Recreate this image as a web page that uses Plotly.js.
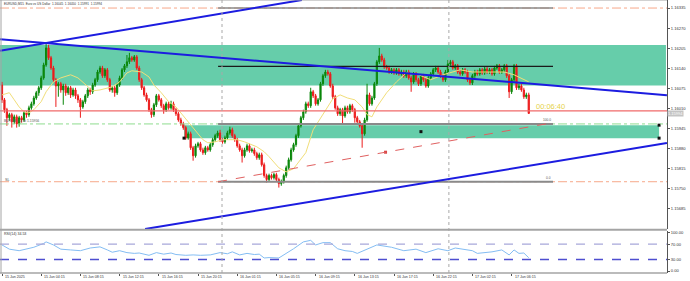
<!DOCTYPE html>
<html><head><meta charset="utf-8">
<script src="https://cdn.plot.ly/plotly-3.0.1.min.js"></script>
<style>html,body{margin:0;padding:0;background:#fff;overflow:hidden}#chart{width:690px;height:281px}</style>
</head><body><div id="chart"></div>
<script>
const openP = [1.16086,1.16038,1.16006,1.15980,1.15990,1.15967,1.15983,1.15960,1.15980,1.15973,
1.15996,1.15990,1.16012,1.16025,1.16044,1.16061,1.16077,1.16109,1.16151,1.16206,
1.16174,1.16141,1.16103,1.16083,1.16090,1.16070,1.16083,1.16061,1.16077,1.16054,
1.16070,1.16051,1.16038,1.16015,1.16032,1.16051,1.16070,1.16064,1.16086,1.16103,
1.16128,1.16141,1.16116,1.16135,1.16103,1.16070,1.16077,1.16061,1.16086,1.16109,
1.16135,1.16148,1.16161,1.16174,1.16167,1.16177,1.16141,1.16103,1.16077,1.16054,
1.16038,1.16006,1.15990,1.16022,1.16051,1.16038,1.16019,1.16006,1.16025,1.16012,
1.16025,1.16006,1.15993,1.15973,1.15960,1.15948,1.15915,1.15928,1.15883,1.15857,
1.15889,1.15896,1.15876,1.15867,1.15883,1.15876,1.15893,1.15909,1.15922,1.15931,
1.15909,1.15902,1.15915,1.15931,1.15941,1.15922,1.15909,1.15889,1.15876,1.15857,
1.15876,1.15889,1.15873,1.15876,1.15864,1.15851,1.15860,1.15828,1.15793,1.15780,
1.15793,1.15786,1.15796,1.15780,1.15767,1.15773,1.15793,1.15818,1.15844,1.15876,
1.15893,1.15922,1.15954,1.15980,1.15999,1.16025,1.16019,1.16064,1.16051,1.16025,
1.16038,1.16090,1.16116,1.16128,1.16122,1.16083,1.16048,1.16012,1.15993,1.16006,
1.15986,1.16012,1.15999,1.16019,1.16006,1.15980,1.15967,1.15954,1.15928,1.15973,
1.16054,1.16025,1.16044,1.16090,1.16161,1.16180,1.16167,1.16145,1.16141,1.16128,
1.16135,1.16125,1.16135,1.16122,1.16128,1.16116,1.16128,1.16109,1.16096,1.16122,
1.16103,1.16090,1.16116,1.16103,1.16083,1.16109,1.16122,1.16135,1.16141,1.16128,
1.16116,1.16103,1.16128,1.16154,1.16161,1.16141,1.16148,1.16128,1.16122,1.16135,
1.16128,1.16103,1.16093,1.16116,1.16128,1.16122,1.16135,1.16125,1.16138,1.16128,
1.16135,1.16122,1.16141,1.16148,1.16128,1.16135,1.16148,1.16116,1.16064,1.16103,
1.16148,1.16077,1.16083,1.16070,1.16048,1.16054];
const highP = [1.16096,1.16044,1.16012,1.15996,1.15996,1.15990,1.15990,1.15986,1.15986,1.16002,
1.16002,1.16019,1.16032,1.16051,1.16067,1.16083,1.16116,1.16158,1.16225,1.16216,
1.16180,1.16148,1.16109,1.16096,1.16096,1.16090,1.16090,1.16083,1.16083,1.16077,
1.16077,1.16057,1.16044,1.16038,1.16057,1.16077,1.16077,1.16093,1.16109,1.16135,
1.16148,1.16148,1.16141,1.16141,1.16109,1.16083,1.16083,1.16093,1.16116,1.16141,
1.16154,1.16183,1.16190,1.16180,1.16183,1.16183,1.16148,1.16109,1.16083,1.16061,
1.16044,1.16012,1.16028,1.16057,1.16057,1.16044,1.16025,1.16032,1.16032,1.16035,
1.16032,1.16012,1.15999,1.15980,1.15967,1.15954,1.15935,1.15935,1.15889,1.15896,
1.15902,1.15902,1.15883,1.15889,1.15889,1.15899,1.15915,1.15928,1.15938,1.15941,
1.15915,1.15922,1.15938,1.15951,1.15948,1.15928,1.15915,1.15896,1.15883,1.15883,
1.15896,1.15896,1.15883,1.15883,1.15870,1.15867,1.15867,1.15835,1.15799,1.15799,
1.15799,1.15802,1.15802,1.15786,1.15780,1.15799,1.15825,1.15851,1.15883,1.15899,
1.15928,1.15960,1.15986,1.16006,1.16032,1.16032,1.16077,1.16070,1.16057,1.16044,
1.16096,1.16122,1.16135,1.16135,1.16128,1.16090,1.16054,1.16019,1.16012,1.16012,
1.16019,1.16019,1.16025,1.16025,1.16012,1.15986,1.15973,1.15960,1.15980,1.16090,
1.16061,1.16051,1.16096,1.16167,1.16206,1.16187,1.16174,1.16151,1.16148,1.16141,
1.16141,1.16141,1.16141,1.16135,1.16135,1.16135,1.16135,1.16116,1.16128,1.16128,
1.16109,1.16122,1.16122,1.16109,1.16116,1.16128,1.16141,1.16148,1.16148,1.16135,
1.16122,1.16135,1.16167,1.16167,1.16167,1.16154,1.16154,1.16135,1.16141,1.16141,
1.16135,1.16109,1.16122,1.16135,1.16135,1.16141,1.16141,1.16145,1.16145,1.16141,
1.16141,1.16148,1.16154,1.16154,1.16141,1.16154,1.16154,1.16122,1.16109,1.16154,
1.16154,1.16090,1.16090,1.16077,1.16061,1.16061];
const lowP = [1.16028,1.15996,1.15954,1.15970,1.15948,1.15960,1.15948,1.15951,1.15964,1.15967,
1.15980,1.15983,1.16006,1.16019,1.16038,1.16051,1.16070,1.16103,1.16145,1.16167,
1.16135,1.16096,1.16015,1.16048,1.16061,1.16022,1.16051,1.16054,1.16044,1.16048,
1.16041,1.16028,1.15980,1.16009,1.16025,1.16044,1.16054,1.16057,1.16080,1.16096,
1.16122,1.16109,1.16109,1.16096,1.16064,1.16061,1.16048,1.16054,1.16080,1.16103,
1.16128,1.16141,1.16154,1.16161,1.16161,1.16135,1.16096,1.16070,1.16048,1.16032,
1.15999,1.15980,1.15983,1.16015,1.16032,1.16012,1.15993,1.15999,1.16006,1.16006,
1.15999,1.15986,1.15967,1.15954,1.15941,1.15909,1.15909,1.15876,1.15841,1.15851,
1.15883,1.15870,1.15860,1.15860,1.15870,1.15870,1.15886,1.15902,1.15915,1.15902,
1.15896,1.15896,1.15909,1.15925,1.15915,1.15902,1.15883,1.15870,1.15835,1.15851,
1.15870,1.15867,1.15867,1.15857,1.15844,1.15844,1.15822,1.15786,1.15770,1.15773,
1.15780,1.15780,1.15773,1.15754,1.15760,1.15767,1.15786,1.15812,1.15838,1.15870,
1.15886,1.15915,1.15948,1.15973,1.15993,1.16012,1.16012,1.16044,1.16019,1.16019,
1.16032,1.16083,1.16109,1.16116,1.16077,1.16041,1.16006,1.15986,1.15986,1.15960,
1.15980,1.15993,1.15993,1.15999,1.15964,1.15960,1.15948,1.15883,1.15922,1.15967,
1.16019,1.16019,1.16038,1.16083,1.16154,1.16161,1.16138,1.16135,1.16122,1.16122,
1.16119,1.16119,1.16116,1.16116,1.16109,1.16109,1.16103,1.16064,1.16090,1.16096,
1.16083,1.16083,1.16096,1.16077,1.16077,1.16103,1.16116,1.16128,1.16122,1.16109,
1.16096,1.16096,1.16122,1.16148,1.16135,1.16135,1.16122,1.16116,1.16116,1.16122,
1.16096,1.16086,1.16086,1.16109,1.16116,1.16116,1.16119,1.16119,1.16122,1.16122,
1.16116,1.16116,1.16135,1.16122,1.16122,1.16128,1.16109,1.16044,1.16057,1.16096,
1.16070,1.16070,1.16064,1.16041,1.16041,1.15993];
const closeP = [1.16038,1.16006,1.15980,1.15990,1.15967,1.15983,1.15960,1.15980,1.15973,1.15996,
1.15990,1.16012,1.16025,1.16044,1.16061,1.16077,1.16109,1.16151,1.16206,1.16174,
1.16141,1.16103,1.16083,1.16090,1.16070,1.16083,1.16061,1.16077,1.16054,1.16070,
1.16051,1.16038,1.16015,1.16032,1.16051,1.16070,1.16064,1.16086,1.16103,1.16128,
1.16141,1.16116,1.16135,1.16103,1.16070,1.16077,1.16061,1.16086,1.16109,1.16135,
1.16148,1.16161,1.16174,1.16167,1.16177,1.16141,1.16103,1.16077,1.16054,1.16038,
1.16006,1.15990,1.16022,1.16051,1.16038,1.16019,1.16006,1.16025,1.16012,1.16025,
1.16006,1.15993,1.15973,1.15960,1.15948,1.15915,1.15928,1.15883,1.15857,1.15889,
1.15896,1.15876,1.15867,1.15883,1.15876,1.15893,1.15909,1.15922,1.15931,1.15909,
1.15902,1.15915,1.15931,1.15941,1.15922,1.15909,1.15889,1.15876,1.15857,1.15876,
1.15889,1.15873,1.15876,1.15864,1.15851,1.15860,1.15828,1.15793,1.15780,1.15793,
1.15786,1.15796,1.15780,1.15767,1.15773,1.15793,1.15818,1.15844,1.15876,1.15893,
1.15922,1.15954,1.15980,1.15999,1.16025,1.16019,1.16064,1.16051,1.16025,1.16038,
1.16090,1.16116,1.16128,1.16122,1.16083,1.16048,1.16012,1.15993,1.16006,1.15986,
1.16012,1.15999,1.16019,1.16006,1.15980,1.15967,1.15954,1.15928,1.15973,1.16054,
1.16025,1.16044,1.16090,1.16161,1.16180,1.16167,1.16145,1.16141,1.16128,1.16135,
1.16125,1.16135,1.16122,1.16128,1.16116,1.16128,1.16109,1.16096,1.16122,1.16103,
1.16090,1.16116,1.16103,1.16083,1.16109,1.16122,1.16135,1.16141,1.16128,1.16116,
1.16103,1.16128,1.16154,1.16161,1.16141,1.16148,1.16128,1.16122,1.16135,1.16128,
1.16103,1.16093,1.16116,1.16128,1.16122,1.16135,1.16125,1.16138,1.16128,1.16135,
1.16122,1.16141,1.16148,1.16128,1.16135,1.16148,1.16116,1.16064,1.16103,1.16148,
1.16077,1.16083,1.16070,1.16048,1.16054,1.15994];

const maIdx = [0,3,5,7,9,11,13,16,18,21,24,28,31,35,37,40,43,45,48,51,53,57,60,62,65,68,71,73,76,79,82,84,87,90,94,96,99,102,104,107,109,113,116,119,122,124,127,130,133,135,138,141,144,147,149,151,153,157,161,165,170,175,180,187,192,197,201,205,209,213,215];
const maVal = [1.16054,1.16061,1.16038,1.16015,1.15999,1.15996,1.16006,1.16032,1.16064,1.16096,1.16109,1.16119,1.16109,1.16080,1.16067,1.16070,1.16077,1.16080,1.16096,1.16125,1.16132,1.16128,1.16112,1.16086,1.16061,1.16032,1.16015,1.15996,1.15967,1.15941,1.15909,1.15899,1.15902,1.15909,1.15909,1.15909,1.15902,1.15893,1.15886,1.15870,1.15854,1.15818,1.15805,1.15815,1.15844,1.15867,1.15941,1.15980,1.16015,1.16041,1.16054,1.16044,1.16038,1.16015,1.15990,1.15983,1.16015,1.16061,1.16096,1.16125,1.16119,1.16103,1.16119,1.16135,1.16128,1.16128,1.16128,1.16128,1.16119,1.16103,1.16096];

const rsiIdx = [0,3,7,13,17,18,21,24,28,32,36,40,43,45,48,51,54,56,60,63,66,69,71,75,78,81,85,89,92,94,97,100,103,105,107,109,113,116,119,123,126,128,131,134,137,140,143,145,149,153,159,164,169,173,178,181,182,185,189,192,194,200,204,207,209,211,213,215];
const rsiVal = [68,57,53,62,72,76,68,57,55,53,60,63,55,49,53,48,46,47,41,48,44,47,43,41,42,41,42,48,45,50,42,46,43,44,34,35,34,45,58,76,80,68,74,74,58,53,51,46,58,68,62,53,57,48,58,55,53,60,55,53,46,50,55,42,55,46,47,34.53];

const priceTicks = [1.16335,1.16270,1.16205,1.16140,1.16075,1.16010,1.15945,1.15880,1.15815,1.15750,1.15685];
const rsiTicks = [0,30,70,100];
const rsiLevels = [30,70];
const timeTickIdx = [0,16,32,48,64,80,96,112,128,144,160,176,192,208];
const timeTickText = ['15 Jun 2025','15 Jun 04:15','15 Jun 08:15','15 Jun 12:15','15 Jun 16:15','15 Jun 20:15','16 Jun 01:15','16 Jun 05:15','16 Jun 09:15','16 Jun 13:15','16 Jun 17:15','16 Jun 22:15','17 Jun 02:15','17 Jun 06:15'];
const daySepIdx = [89.8,182.4];

const zoneUpper = [-0.8,271.0,1.16084,1.16215];
const zoneLower = [74.3,268.2,1.15914,1.15956];
const trendA = [-0.8,1.16197,122.4,1.16361];
const trendB = [-0.8,1.16234,271.4,1.16053];
const trendC = [58.4,1.15620,271.4,1.15898];
const toolRange = [88.2,224.9];
const tpLevel = 1.16335, entryLevel = 1.15960, slLevel = 1.15773, bidLevel = 1.16002, midLevel = 1.16146;
const diagLine = [88.2,1.15773,224.9,1.15964];
const objDot = [171,1.15935];
const headerText = 'EURUSD,M15  Euro vs US Dollar  1.16045  1.16050  1.15991  1.15994';
const lastPrice = '1.15994';
const timerText = '00:06:40';
const rsiLabel = 'RSI(14) 34.53';
const buyLabel = 'BUY 33  0.1 at 1.15956';

const idx = closeP.map((_, i) => i);
const XR = [-0.816, 271.43];
const PH = 273, PW = 667;
const py = v => 1 - v / PH;

const traces = [
  {type:'candlestick', x: idx, open: openP, high: highP, low: lowP, close: closeP,
   xaxis:'x', yaxis:'y', whiskerwidth:0, hoverinfo:'skip',
   increasing:{line:{color:'#0a870a', width:1}, fillcolor:'#0a870a'},
   decreasing:{line:{color:'#ec1c1c', width:1}, fillcolor:'#ec1c1c'}},
  {type:'scatter', mode:'lines', x: maIdx, y: maVal, xaxis:'x', yaxis:'y',
   line:{color:'#f1de79', width:1}, hoverinfo:'skip'},
  {type:'scatter', mode:'markers', x:[zoneLower[1], zoneLower[1], zoneLower[0], objDot[0]],
   y:[zoneLower[3], zoneLower[2], zoneLower[2], objDot[1]], xaxis:'x', yaxis:'y',
   marker:{color:'#111', size:3, symbol:'square'}, hoverinfo:'skip'},
  {type:'scatter', mode:'markers', x:[(diagLine[0]+diagLine[2])/2], y:[(diagLine[1]+diagLine[3])/2],
   xaxis:'x', yaxis:'y', marker:{color:'#d84040', size:3, symbol:'square'}, hoverinfo:'skip'},
  {type:'scatter', mode:'lines', x: rsiIdx, y: rsiVal, xaxis:'x2', yaxis:'y2',
   line:{color:'#84bdf3', width:1}, hoverinfo:'skip'}
];

const shapes = [];
const hl = (y, x0, x1, color, width, dash, yref) => shapes.push({type:'line', xref:'x', yref: yref||'y', x0, x1, y0:y, y1:y, line:{color, width, dash: dash||'solid'}});
shapes.push({type:'rect', xref:'x', yref:'y', x0:zoneUpper[0], x1:zoneUpper[1], y0:zoneUpper[2], y1:zoneUpper[3], fillcolor:'#66cdaa', line:{width:0}, layer:'below'});
shapes.push({type:'rect', xref:'x', yref:'y', x0:zoneLower[0], x1:zoneLower[1], y0:zoneLower[2], y1:zoneLower[3], fillcolor:'#66cdaa', line:{width:0}, layer:'below'});
hl(tpLevel, XR[0], XR[1], '#f7a88a', 1, 'dashdot');
hl(entryLevel, XR[0], XR[1], '#8fdc8f', 1, 'dashdot');
hl(slLevel, XR[0], XR[1], '#f7a88a', 1, 'dashdot');
hl(bidLevel, XR[0], XR[1], '#f06a6a', 1.3);
hl(tpLevel, toolRange[0], toolRange[1], '#8a8a8a', 1.5);
hl(entryLevel, toolRange[0], toolRange[1], '#8a8a8a', 2);
hl(slLevel, toolRange[0], toolRange[1], '#8a8a8a', 2);
hl(midLevel, toolRange[0], toolRange[1], '#1a1a1a', 1.2);
shapes.push({type:'line', xref:'x', yref:'y', x0:diagLine[0], y0:diagLine[1], x1:diagLine[2], y1:diagLine[3], line:{color:'#e06060', width:1, dash:'dash'}});
[trendA, trendB, trendC].forEach(t => shapes.push({type:'line', xref:'x', yref:'y', x0:t[0], y0:t[1], x1:t[2], y1:t[3], line:{color:'#1c1ce0', width:2}}));
rsiLevels.forEach((v, k) => hl(v, XR[0], XR[1], k === 0 ? '#4e4ed0' : '#a8a8da', k === 0 ? 1.3 : 1.2, 'dash', 'y2'));
daySepIdx.forEach(d => shapes.push({type:'line', xref:'x', yref:'paper', x0:d, x1:d, y0:0, y1:1, line:{color:'#a8a8a8', width:1, dash:'dot'}}));
shapes.push({type:'line', xref:'paper', yref:'paper', x0:0, x1:1, y0:py(229.8), y1:py(229.8), line:{color:'#a4a4a4', width:2}});
shapes.push({type:'line', xref:'paper', yref:'paper', x0:0, x1:1, y0:py(273), y1:py(273), line:{color:'#a4a4a4', width:1.5}});
shapes.push({type:'line', xref:'paper', yref:'paper', x0:0.0015, x1:0.0015, y0:0, y1:1, line:{color:'#a4a4a4', width:1}});
shapes.push({type:'line', xref:'paper', yref:'paper', x0:0, x1:1, y0:1, y1:1, line:{color:'#a4a4a4', width:1}});

const F = 'Liberation Sans, Arial, sans-serif';
const annotations = [
  {xref:'paper', yref:'paper', x:0.003, y:py(4), xanchor:'left', yanchor:'middle', text:headerText, showarrow:false, font:{family:F, size:3.1, color:'#333'}},
  {xref:'paper', yref:'paper', x:0.003, y:py(121), xanchor:'left', yanchor:'middle', text:buyLabel, showarrow:false, font:{family:F, size:3.4, color:'#555'}},
  {xref:'paper', yref:'paper', x:0.004, y:py(179.5), xanchor:'left', yanchor:'middle', text:'SL', showarrow:false, font:{family:F, size:3.7, color:'#555'}},
  {xref:'x', yref:'y', x:toolRange[1], y:entryLevel, xanchor:'right', yanchor:'bottom', text:'100.0', showarrow:false, font:{family:F, size:3.2, color:'#555'}},
  {xref:'x', yref:'y', x:toolRange[1], y:slLevel, xanchor:'right', yanchor:'bottom', text:'0.0', showarrow:false, font:{family:F, size:3.2, color:'#555'}},
  {xref:'x', yref:'y', x:idx[idx.length-1]+2, y:closeP[closeP.length-1], yshift:7, xanchor:'left', yanchor:'middle', text:timerText, showarrow:false, font:{family:F, size:7.5, color:'#e6d24a'}},
  {xref:'paper', yref:'paper', x:0.003, y:py(233.5), xanchor:'left', yanchor:'middle', text:rsiLabel, showarrow:false, font:{family:F, size:3.6, color:'#333'}},
  {xref:'paper', yref:'y', x:1, y:closeP[closeP.length-1], xanchor:'left', yanchor:'middle', xshift:0, text:lastPrice, showarrow:false, bgcolor:'#c4c4c4', borderpad:0, font:{family:F, size:4, color:'#fff'}}
];
timeTickIdx.forEach((t, k) => annotations.push({xref:'x', yref:'paper', x:t, y:py(277), xanchor:'left', yanchor:'middle', xshift:1, text:timeTickText[k], showarrow:false, font:{family:F, size:3.6, color:'#333'}}));

const layout = {
  width:690, height:281, margin:{l:0, r:23, t:0, b:8, pad:0},
  paper_bgcolor:'#fff', plot_bgcolor:'#fff', showlegend:false, hovermode:false,
  xaxis:{domain:[0,1], range:XR, anchor:'y', showgrid:false, zeroline:false, showticklabels:false, ticks:'', rangeslider:{visible:false}, fixedrange:true},
  xaxis2:{domain:[0,1], range:XR, matches:'x', anchor:'y2', showgrid:false, zeroline:false, showticklabels:false, ticks:'outside', ticklen:2, tickcolor:'#555', tickvals:timeTickIdx, fixedrange:true},
  yaxis:{domain:[1-229/PH, 1], range:[1.15620, 1.16361], side:'right', anchor:'x', showgrid:false, zeroline:false, tickvals:priceTicks, tickformat:'.5f', ticks:'outside', ticklen:2, tickcolor:'#555', showline:true, linecolor:'#555', linewidth:1, tickfont:{family:F, size:4.1, color:'#333'}, fixedrange:true},
  yaxis2:{domain:[0, 42/PH], range:[-5.2, 104.4], side:'right', anchor:'x2', showgrid:false, zeroline:false, tickvals:rsiTicks, ticktext:rsiTicks.map(v => v.toFixed(2)), ticks:'outside', ticklen:2, tickcolor:'#555', showline:true, linecolor:'#555', linewidth:1, tickfont:{family:F, size:4.1, color:'#333'}, fixedrange:true},
  shapes, annotations
};
Plotly.newPlot('chart', traces, layout, {staticPlot:true, displayModeBar:false});
</script></body></html>
